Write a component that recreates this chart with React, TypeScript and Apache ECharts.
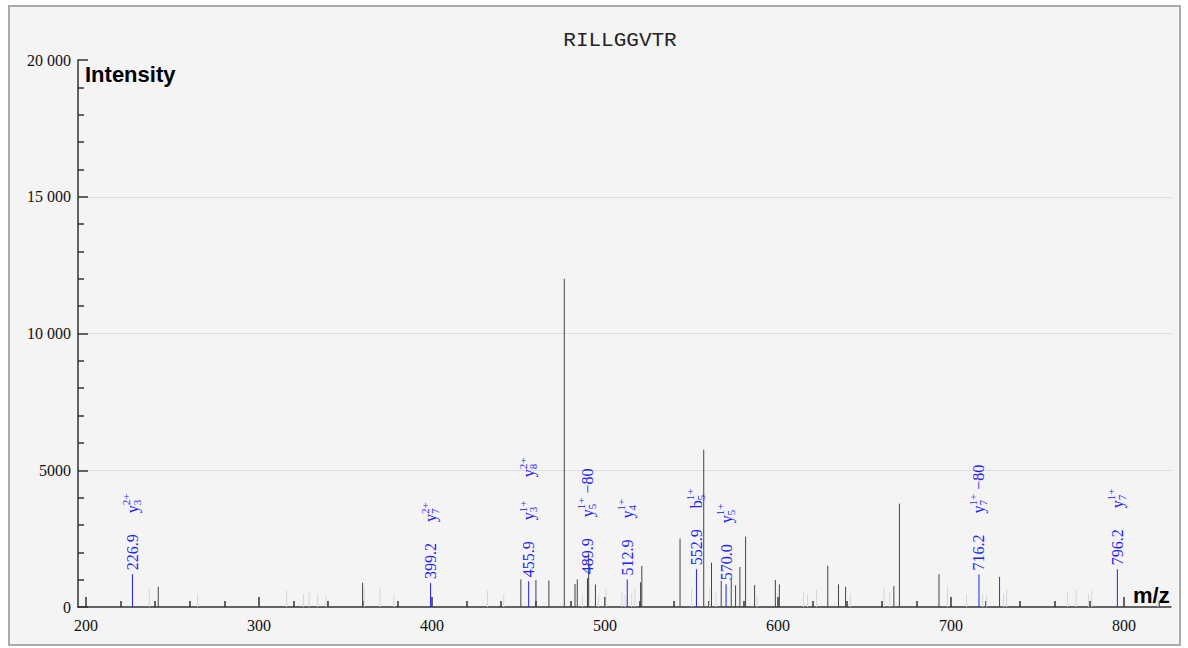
import React, { useEffect, useRef } from 'react';
import * as echarts from 'echarts';

const TITLE = 'RILLGGVTR';
const X_LABEL = 'm/z';
const Y_LABEL = 'Intensity';
const X_MIN = 195.4;
const X_MAX = 827.2;
const Y_MIN = 0;
const Y_MAX = 20000;
const Y_INTERVAL = 5000;
const X_MAJOR_TICKS = [200, 300, 400, 500, 600, 700, 800];
const X_MINOR_TICKS = [220, 240, 260, 280, 320, 340, 360, 380, 420, 440, 460, 480, 520, 540, 560, 580, 620, 640, 660, 680, 720, 740, 760, 780, 820];

// unmatched peaks (dark)
const darkMz = [241.8, 359.9, 451.4, 460.1, 467.6, 476.5, 482.7, 484.0, 490.6, 494.5, 520.6, 521.3, 543.4, 557.1, 561.6, 567.2, 573.0, 575.5, 578.0, 581.3, 586.5, 598.5, 600.8, 628.8, 635.0, 639.1, 667.0, 670.2, 693.1, 728.1];
const darkIntensity = [740, 890, 1010, 990, 970, 12000, 840, 1010, 1900, 820, 900, 1500, 2500, 5750, 1620, 960, 1030, 790, 1465, 2570, 800, 990, 825, 1510, 830, 740, 760, 3780, 1200, 1100];

// noise peaks (light)
const lightMz = [236.6, 264.5, 316.0, 325.7, 329.0, 333.9, 338.9, 360.8, 369.9, 378.0, 432.1, 441.5, 487.0, 496.2, 500.6, 509.8, 511.7, 515.4, 517.3, 550.1, 560.5, 564.1, 587.9, 614.7, 617.1, 622.3, 641.8, 661.4, 664.6, 698.0, 709.0, 718.3, 720.6, 730.4, 732.2, 767.4, 772.4, 779.6, 781.4, 819.8];
const lightIntensity = [680, 475, 620, 475, 550, 470, 400, 740, 705, 430, 600, 470, 440, 410, 650, 570, 430, 500, 700, 690, 700, 530, 420, 550, 450, 635, 490, 685, 565, 740, 480, 480, 450, 490, 650, 550, 635, 480, 600, 440];

// annotated (matched) peaks
const annotMz = [226.9, 399.2, 455.9, 489.9, 512.9, 552.9, 570.0, 716.2, 796.2];
const annotIntensity = [1200, 880, 940, 1050, 1010, 1380, 830, 1190, 1380];
const annotLabels = ['226.9', '399.2', '455.9', '489.9', '512.9', '552.9', '570.0', '716.2', '796.2'];
type Ion = { base: string; sub: string; sup: string; suffix?: string };
const annotIons: Ion[][] = [
  [{ base: 'y', sub: '3', sup: '2+' }],
  [{ base: 'y', sub: '7', sup: '2+' }],
  [{ base: 'y', sub: '3', sup: '1+' }, { base: 'y', sub: '8', sup: '2+' }],
  [{ base: 'y', sub: '5', sup: '1+', suffix: '\u221280' }],
  [{ base: 'y', sub: '4', sup: '1+' }],
  [{ base: 'b', sub: '5', sup: '1+' }],
  [{ base: 'y', sub: '5', sup: '1+' }],
  [{ base: 'y', sub: '7', sup: '1+', suffix: '\u221280' }],
  [{ base: 'y', sub: '7', sup: '1+' }],
];

const BLUE = '#2020ff';
const DARK = '#444';
const LIGHT = '#d6d6d6';
const SERIF = '"Liberation Serif", "Times New Roman", serif';
const MZ_FONT = `16px ${SERIF}`;
const ION_FONT = `16px ${SERIF}`;
const SMALL_FONT = `11px ${SERIF}`;

let measureCtx: CanvasRenderingContext2D | null = null;
function measure(text: string, font: string): number {
  if (!measureCtx) measureCtx = document.createElement('canvas').getContext('2d');
  if (!measureCtx) return text.length * 7;
  measureCtx.font = font;
  return measureCtx.measureText(text).width;
}

const stickRender = (color: string) => (params: any, api: any) => {
  const x = api.value(0);
  const p0 = api.coord([x, 0]);
  const p1 = api.coord([x, api.value(1)]);
  return {
    type: 'line',
    shape: { x1: p0[0], y1: p0[1], x2: p1[0], y2: p1[1] },
    style: { stroke: color, lineWidth: 1 },
  };
};

const annotRender = (params: any, api: any) => {
  const i = params.dataIndex;
  const x = api.value(0);
  const p0 = api.coord([x, 0]);
  const p1 = api.coord([x, api.value(1)]);
  const kids: any[] = [
    {
      type: 'text',
      x: 4,
      y: 0,
      style: { text: annotLabels[i], font: MZ_FONT, fill: BLUE, align: 'left', verticalAlign: 'middle' },
    },
  ];
  annotIons[i].forEach((ion, k) => {
    const x0 = 61 + k * 43;
    const bw = measure(ion.base, ION_FONT);
    kids.push({ type: 'text', x: x0, y: 0, style: { text: ion.base, font: ION_FONT, fill: BLUE, align: 'left', verticalAlign: 'middle' } });
    kids.push({ type: 'text', x: x0 + bw, y: 4.5, style: { text: ion.sub, font: SMALL_FONT, fill: BLUE, align: 'left', verticalAlign: 'middle' } });
    kids.push({ type: 'text', x: x0 + bw, y: -6, style: { text: ion.sup, font: SMALL_FONT, fill: BLUE, align: 'left', verticalAlign: 'middle' } });
    if (ion.suffix) {
      const sw = Math.max(measure(ion.sub, SMALL_FONT), measure(ion.sup, SMALL_FONT));
      kids.push({ type: 'text', x: x0 + bw + sw + 4, y: 0, style: { text: ion.suffix, font: ION_FONT, fill: BLUE, align: 'left', verticalAlign: 'middle' } });
    }
  });
  return {
    type: 'group',
    children: [
      { type: 'line', shape: { x1: p0[0], y1: p0[1], x2: p1[0], y2: p1[1] }, style: { stroke: BLUE, lineWidth: 1 } },
      { type: 'group', x: p1[0], y: p1[1], rotation: Math.PI / 2, children: kids },
    ],
  };
};

function formatY(v: number): string {
  const s = String(Math.round(v));
  if (v >= 10000) return s.slice(0, s.length - 3) + ' ' + s.slice(s.length - 3);
  return s;
}

export default function App() {
  const ref = useRef<HTMLDivElement>(null);
  useEffect(() => {
    if (!ref.current) return;
    const chart = echarts.init(ref.current, undefined, { renderer: 'svg' });
    const darkData = darkMz.map((m, i) => [m, darkIntensity[i]]);
    const lightData = lightMz.map((m, i) => [m, lightIntensity[i]]);
    const annotData = annotMz.map((m, i) => [m, annotIntensity[i]]);
    const axisColor = '#333';
    chart.setOption({
      animation: false,
      backgroundColor: '#ffffff',
      grid: { left: 78, right: 17, top: 60, bottom: 41, containLabel: false },
      xAxis: [
        {
          type: 'value',
          min: X_MIN,
          max: X_MAX,
          position: 'bottom',
          axisLine: { show: true, onZero: false, lineStyle: { color: axisColor, width: 1.5 } },
          axisTick: { show: true, inside: true, length: 10, customValues: X_MAJOR_TICKS, lineStyle: { color: axisColor, width: 1.5 } },
          axisLabel: { show: true, customValues: X_MAJOR_TICKS, margin: 10, fontFamily: SERIF, fontSize: 16, color: '#111' },
          splitLine: { show: false },
        },
        {
          type: 'value',
          min: X_MIN,
          max: X_MAX,
          position: 'bottom',
          axisLine: { show: false, onZero: false },
          axisTick: { show: true, inside: true, length: 6, customValues: X_MINOR_TICKS, lineStyle: { color: axisColor, width: 1.5 } },
          axisLabel: { show: false },
          splitLine: { show: false },
        },
      ],
      yAxis: {
        type: 'value',
        min: Y_MIN,
        max: Y_MAX,
        interval: Y_INTERVAL,
        axisLine: { show: true, lineStyle: { color: axisColor, width: 1.5 } },
        axisTick: { show: true, inside: true, length: 10, lineStyle: { color: axisColor, width: 1.5 } },
        minorTick: { show: true, splitNumber: 5, length: 6, lineStyle: { color: axisColor, width: 1.5 } },
        axisLabel: { margin: 7, fontFamily: SERIF, fontSize: 16, color: '#111', formatter: formatY },
        splitLine: { show: true, lineStyle: { color: ['rgba(0,0,0,0)', '#dcdcdc', '#dcdcdc', '#dcdcdc', 'rgba(0,0,0,0)'], width: 1 } },
      },
      graphic: [
        { type: 'rect', z: -100, shape: { x: 9, y: 6, width: 1171, height: 639 }, style: { fill: '#f4f4f4', stroke: '#ababab', lineWidth: 2 } },
        { type: 'text', x: 620, y: 40, style: { text: TITLE, font: '21px "Liberation Mono", monospace', fill: '#222', align: 'center', verticalAlign: 'middle' } },
        { type: 'text', x: 85, y: 74, style: { text: Y_LABEL, font: 'bold 22px "Liberation Sans", Arial, sans-serif', fill: '#000', align: 'left', verticalAlign: 'middle' } },
        { type: 'text', x: 1133, y: 595, style: { text: X_LABEL, font: 'bold 22px "Liberation Sans", Arial, sans-serif', fill: '#000', align: 'left', verticalAlign: 'middle' } },
      ],
      series: [
        { type: 'custom', name: 'noise', xAxisIndex: 0, yAxisIndex: 0, data: lightData, encode: { x: 0, y: 1 }, renderItem: stickRender(LIGHT), silent: true },
        { type: 'custom', name: 'peaks', xAxisIndex: 0, yAxisIndex: 0, data: darkData, encode: { x: 0, y: 1 }, renderItem: stickRender(DARK), silent: true },
        { type: 'custom', name: 'matched', xAxisIndex: 0, yAxisIndex: 0, data: annotData, encode: { x: 0, y: 1 }, renderItem: annotRender, silent: true, clip: false, z: 5 },
      ],
    });
    return () => chart.dispose();
  }, []);
  return <div ref={ref} style={{ position: 'fixed', left: 0, top: 0, width: 1188, height: 648 }} />;
}
